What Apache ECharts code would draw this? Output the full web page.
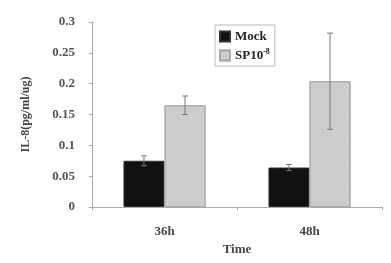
<!DOCTYPE html>
<html><head><meta charset="utf-8">
<script src="https://cdn.jsdelivr.net/npm/echarts@6/dist/echarts.min.js"></script>
<style>html,body{margin:0;padding:0;background:#fff}#c{width:391px;height:263px}</style>
</head><body><div id="c"></div>
<script>
const categories = ['36h', '48h'];
const mockValues = [0.075, 0.064];
const mockErrors = [0.008, 0.005];
const spValues = [0.165, 0.204];
const spErrors = [0.015, 0.078];
const yTicks = [0, 0.05, 0.1, 0.15, 0.2, 0.25, 0.3];

const BAR_FRAC = 0.283;
const font = 'Liberation Serif';

function errSeries(values, errors, side) {
  return {
    type: 'custom',
    z: 10,
    silent: true,
    data: values.map((v, i) => [i, v, errors[i]]),
    renderItem: function (params, api) {
      const i = api.value(0), v = api.value(1), e = api.value(2);
      const band = api.size([1, 0])[0];
      const off = side * band * BAR_FRAC / 2;
      const top = api.coord([i, v + e]);
      const bot = api.coord([i, v - e]);
      const x = top[0] + off;
      const cap = 3;
      const st = { stroke: '#777', lineWidth: 1 };
      return { type: 'group', children: [
        { type: 'line', shape: { x1: x, y1: top[1], x2: x, y2: bot[1] }, style: st },
        { type: 'line', shape: { x1: x - cap, y1: top[1], x2: x + cap, y2: top[1] }, style: st },
        { type: 'line', shape: { x1: x - cap, y1: bot[1], x2: x + cap, y2: bot[1] }, style: st }
      ]};
    }
  };
}

const chart = echarts.init(document.getElementById('c'), null, { renderer: 'canvas' });
chart.setOption({
  backgroundColor: '#fff',
  animation: false,
  grid: { left: 92, right: 9, top: 22, bottom: 56 },
  legend: {
    left: 215, top: 25, orient: 'vertical',
    itemWidth: 10, itemHeight: 10, itemGap: 5,
    padding: [5, 5, 4, 4],
    borderColor: '#bbb', borderWidth: 1,
    icon: 'rect',
    textStyle: { fontFamily: font, fontWeight: 'bold', fontSize: 13, color: '#222',
      rich: { sup: { fontSize: 8, fontFamily: font, fontWeight: 'bold', verticalAlign: 'top', padding: [0,0,7,0] } } },
    data: ['Mock', 'SP10'],
    formatter: function (n) { return n === 'SP10' ? 'SP10{sup|-8}' : n; }
  },
  xAxis: {
    type: 'category', data: categories,
    name: 'Time', nameLocation: 'middle', nameGap: 34,
    nameTextStyle: { fontFamily: font, fontWeight: 'bold', fontSize: 13, color: '#444' },
    axisLine: { lineStyle: { color: '#aaa' } },
    axisTick: { show: true, length: 3, lineStyle: { color: '#aaa' } },
    axisLabel: { fontFamily: font, fontWeight: 'bold', fontSize: 13, color: '#444', margin: 18 }
  },
  yAxis: {
    type: 'value', min: 0, max: 0.3, interval: 0.05,
    name: 'IL-8(pg/ml/ug)', nameLocation: 'middle', nameGap: 60, nameRotate: 90,
    nameTextStyle: { fontFamily: font, fontWeight: 'bold', fontSize: 12, color: '#444' },
    splitLine: { show: false },
    axisLine: { show: true, lineStyle: { color: '#aaa' } },
    axisTick: { show: true, length: 3, lineStyle: { color: '#aaa' } },
    axisLabel: { fontFamily: font, fontWeight: 'bold', fontSize: 13, color: '#555', margin: 17,
      formatter: function (v) { return String(+v.toFixed(2)); } }
  },
  series: [
    { name: 'Mock', type: 'bar', data: mockValues, barWidth: (BAR_FRAC * 100) + '%', barGap: '0%',
      itemStyle: { color: '#111', borderColor: '#333', borderWidth: 1 } },
    { name: 'SP10', type: 'bar', data: spValues, barWidth: (BAR_FRAC * 100) + '%', barGap: '0%',
      itemStyle: { color: '#cdcdcd', borderColor: '#aaa', borderWidth: 1,
        decal: { symbol: 'rect', symbolSize: 0.4, dashArrayX: [1, 2], dashArrayY: [1, 2], color: 'rgba(150,150,150,0.5)', rotation: 0 } } },
    errSeries(mockValues, mockErrors, -1),
    errSeries(spValues, spErrors, 1)
  ]
});
</script></body></html>
